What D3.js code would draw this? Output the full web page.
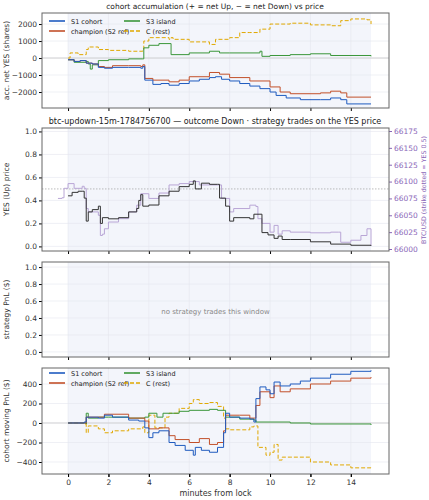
<!DOCTYPE html><html><head><meta charset="utf-8"><script src="https://cdn.jsdelivr.net/npm/d3@7"></script>
<style>body{margin:0;background:#fff}text{font-family:"DejaVu Sans",sans-serif}</style></head><body><svg id="c" width="429" height="500"></svg><script>
const accS1=[[0,-100],[0.3,-200],[0.6,-150],[0.9,-300],[1.2,-350],[1.5,-550],[1.8,-600],[2.2,-550],[3,-550],[3.6,-600],[3.7,-500],[3.8,-1300],[4.2,-1550],[4.6,-1500],[5,-1600],[5.5,-1500],[6,-1350],[6.5,-1250],[7,-1150],[7.3,-1100],[7.6,-1250],[8,-1350],[8.5,-1500],[9,-1650],[9.5,-1800],[10,-2000],[10.3,-2200],[10.8,-2350],[11.5,-2450],[12.5,-2450],[13,-2350],[13.5,-2450],[13.8,-2700],[15,-2700]];
const accChamp=[[0,-100],[0.3,-200],[0.6,-150],[0.9,-300],[1.2,-350],[1.5,-500],[1.8,-550],[2.2,-450],[3,-450],[3.6,-500],[3.7,-400],[3.8,-1200],[4.2,-1300],[5,-1400],[5.5,-1300],[6,-1100],[7,-850],[7.5,-950],[8,-1150],[9,-1350],[10,-1700],[10.5,-2000],[11,-2100],[12.5,-2050],[13,-1950],[13.5,-2050],[13.8,-2300],[15,-2300]];
const accS3=[[0,-100],[0.3,-250],[0.9,-200],[1,-350],[1.1,-650],[1.2,-400],[1.5,-150],[2,-100],[3,-50],[3.7,-50],[3.75,600],[4,750],[4.5,850],[5.1,850],[5.1,200],[6,300],[7,400],[7.5,300],[8,300],[9.5,400],[9.6,100],[10,150],[11,200],[12,250],[13,150],[15,100]];
const accC=[[0,0],[0.1,300],[0.5,200],[0.9,500],[1,650],[1.5,500],[2,450],[3,400],[3.5,400],[3.7,500],[3.75,1000],[4,1200],[5,1100],[5.1,1200],[5.2,1100],[6,950],[7,800],[7.3,1100],[8,1200],[8.5,1500],[9,1500],[9.5,1700],[10,2000],[11,2050],[12,1950],[13,1900],[13.5,2200],[14,2300],[14.8,2250],[15,2000]];
const yesPrice=[[0,0.44],[0.2,0.47],[0.5,0.48],[0.7,0.48],[0.8,0.42],[0.9,0.22],[1,0.3],[1.2,0.32],[1.5,0.35],[1.6,0.2],[1.7,0.25],[2,0.24],[2.5,0.25],[3,0.3],[3.4,0.33],[3.5,0.4],[3.6,0.45],[3.7,0.35],[4,0.36],[4.5,0.44],[5,0.48],[5.5,0.52],[6,0.54],[6.2,0.57],[6.3,0.5],[6.6,0.55],[7,0.54],[7.4,0.54],[7.5,0.42],[7.8,0.35],[8,0.22],[8.2,0.25],[9,0.24],[9.2,0.28],[9.5,0.28],[9.6,0.12],[9.9,0.1],[10.2,0.07],[10.4,0.09],[10.6,0.06],[11,0.06],[12,0.04],[13,0.02],[14,0.01],[15,0.005]];
const btc=[[-0.5,66075],[-0.3,66076],[-0.2,66090],[0,66097],[0.3,66090],[0.7,66093],[0.8,66090],[0.9,66060],[1,66055],[1.5,66050],[1.6,66020],[1.7,66022],[1.8,66030],[2,66040],[2.5,66045],[3,66055],[3.4,66065],[3.6,66082],[4,66075],[4.5,66083],[5,66095],[5.5,66097],[6,66100],[6.5,66095],[7.4,66095],[7.6,66075],[8,66055],[8.2,66060],[9,66065],[9.3,66063],[9.4,66045],[9.6,66038],[10,66025],[10.2,66035],[10.4,66022],[10.6,66027],[11,66025],[12,66024],[13,66025],[13.4,66025],[13.5,66010],[14,66013],[14.5,66020],[14.8,66030],[15,66005]];
const pnlS1=[[0,0],[0.8,10],[0.9,60],[1.5,50],[1.8,80],[2.2,60],[3,30],[3.5,20],[3.8,-50],[4,-150],[4.2,-100],[4.5,-80],[5,-200],[5.3,-230],[5.8,-280],[6.2,-330],[6.3,-250],[6.6,-280],[7,-300],[7.4,-250],[7.7,-100],[7.8,100],[8,60],[8.5,50],[9,40],[9.2,10],[9.3,250],[9.5,370],[9.8,340],[10,300],[10.2,420],[10.5,380],[11,400],[11.5,430],[12,460],[13,500],[14,530],[15,540]];
const pnlChamp=[[0,0],[0.9,60],[1.8,90],[3,50],[3.8,20],[4,-60],[4.5,-50],[5,-130],[5.3,-170],[6,-200],[6.5,-160],[7,-220],[7.4,-200],[7.7,-80],[7.8,80],[8.5,80],[9,50],[9.3,180],[9.5,320],[10,260],[10.2,380],[10.5,320],[11,350],[12,400],[13,430],[14,460],[15,470]];
const pnlS3=[[0,0],[0.9,-10],[0.9,100],[1,50],[1.5,60],[2,60],[3,50],[3.8,60],[4,100],[4.4,60],[4.7,100],[5,100],[5.5,120],[6,130],[7,140],[7.4,130],[7.8,60],[8.5,40],[9.2,30],[9.3,10],[10,10],[11,0],[12,-10],[15,-20]];
const pnlC=[[0,0],[0.8,-10],[0.9,-100],[1,-30],[1.5,-60],[1.8,-100],[2.2,-80],[3,-60],[3.7,-40],[3.8,-100],[4,80],[4.3,-50],[4.8,60],[5,100],[5.5,150],[6,200],[6.2,240],[6.5,200],[7,210],[7.4,170],[7.7,50],[7.8,-60],[8,-70],[8.5,-70],[9,-40],[9.2,-30],[9.4,-250],[9.8,-330],[10,-300],[10.2,-220],[10.4,-380],[10.6,-350],[11,-350],[12,-400],[13,-430],[14,-460],[15,-470]];
const xTicks=[0,2,4,6,8,10,12,14];
const names=["S1 cohort","champion (S2 ref)","S3 island","C (rest)"];
const colors=["#1f5bbf","#c2502a","#3a963a","#e0a800"];

const svg=d3.select("#c");
const L=42,R=389;
const x=d3.scaleLinear().domain([-1.29,15.89]).range([L,R]);
function panel(top,bot,dom,ticks,ylabel,fmt){
  const y=d3.scaleLinear().domain(dom).range([bot,top]);
  const g=svg.append("g");
  g.append("rect").attr("x",x(0)).attr("y",top).attr("width",x(15)-x(0)).attr("height",bot-top).attr("fill","#f3f5fb");
  g.selectAll(".gx").data(xTicks).join("line").attr("x1",d=>x(d)).attr("x2",d=>x(d)).attr("y1",top).attr("y2",bot).attr("stroke","#e4e6ee").attr("stroke-width",0.6);
  g.selectAll(".gy").data(ticks).join("line").attr("x1",L).attr("x2",R).attr("y1",d=>y(d)).attr("y2",d=>y(d)).attr("stroke","#e4e6ee").attr("stroke-width",0.6);
  const ay=g.append("g").attr("transform",`translate(${L},0)`).call(d3.axisLeft(y).tickValues(ticks).tickSize(3).tickPadding(2).tickFormat(fmt));
  ay.selectAll("text").attr("font-size",7.5).attr("fill","#333");ay.select(".domain").remove();
  const ax=g.append("g").attr("transform",`translate(0,${bot})`).call(d3.axisBottom(x).tickValues(xTicks).tickSize(3).tickFormat(""));
  ax.select(".domain").remove();
  g.append("text").attr("transform",`translate(9,${(top+bot)/2}) rotate(-90)`).attr("text-anchor","middle").attr("font-size",7.5).attr("fill","#333").text(ylabel);
  return {y,g,top,bot};
}
function frame(p){svg.append("rect").attr("x",L).attr("y",p.top).attr("width",R-L).attr("height",p.bot-p.top).attr("fill","none").attr("stroke","#666").attr("stroke-width",1);}
function line(p,data,col,w,dash,yy){
  const ys=yy||p.y;
  p.g.append("path").datum(data).attr("fill","none").attr("stroke",col).attr("stroke-width",w).attr("stroke-dasharray",dash||null)
   .attr("d",d3.line().curve(d3.curveStepAfter).x(d=>x(d[0])).y(d=>ys(d[1])));
}
const minus=d=>(d<0?"−":"")+Math.abs(d);
function legend(p,ox,oy){
  const pos=[[ox,oy],[ox,oy+10],[ox+75,oy],[ox+75,oy+10]];
  names.forEach((n,i)=>{
    const [lx,ly]=pos[i];
    p.g.append("line").attr("x1",lx).attr("x2",lx+16).attr("y1",ly).attr("y2",ly).attr("stroke",colors[i]).attr("stroke-width",1.6).attr("stroke-dasharray",i==3?"4,2":null);
    p.g.append("text").attr("x",lx+22).attr("y",ly+2.5).attr("font-size",6.5).attr("fill","#222").text(n);
  });
}
// Panel 1
const p1=panel(13,108,[-2940,2650],[-2000,-1000,0,1000,2000],"acc. net YES (shares)",minus);
p1.g.append("line").attr("x1",L).attr("x2",R).attr("y1",p1.y(0)).attr("y2",p1.y(0)).attr("stroke","#ccc").attr("stroke-width",0.8);
[accC,accS3,accChamp,accS1].forEach((d,i)=>line(p1,d,colors[3-i],1,i==0?"4,2":null));
legend(p1,49,21);frame(p1);
svg.append("text").attr("x",215).attr("y",9).attr("text-anchor","middle").attr("font-size",7.5).attr("fill","#222").text("cohort accumulation (+ = net Up, − = net Down) vs price");
// Panel 2
const p2=panel(128,251,[-0.04,1.03],[0,0.2,0.4,0.6,0.8,1.0],"YES (Up) price",d3.format(".1f"));
const yb=d3.scaleLinear().domain([66000,66175]).range([249,131]);
p2.g.append("line").attr("x1",L).attr("x2",R).attr("y1",p2.y(0.5)).attr("y2",p2.y(0.5)).attr("stroke","#aaa").attr("stroke-width",0.8).attr("stroke-dasharray","1.5,1.5");
line(p2,btc,"#b9a6d6",1,null,yb);
line(p2,yesPrice,"#333",1);
const ar=svg.append("g").attr("transform",`translate(${R},0)`).call(d3.axisRight(yb).tickValues([66000,66025,66050,66075,66100,66125,66150,66175]).tickSize(3).tickPadding(2).tickFormat(d3.format("d")));
ar.select(".domain").remove();ar.selectAll("text").attr("font-size",7.5).attr("fill","#8a66b8");ar.selectAll("line").attr("stroke","#8a66b8");
svg.append("text").attr("transform",`translate(426,190) rotate(-90)`).attr("text-anchor","middle").attr("font-size",6.3).attr("fill","#8a66b8").text("BTC/USD (strike dotted = YES 0.5)");
frame(p2);
svg.append("text").attr("x",215).attr("y",124).attr("text-anchor","middle").attr("font-size",8).attr("fill","#222").text("btc-updown-15m-1784756700 — outcome Down · strategy trades on the YES price");
// Panel 3
const p3=panel(262,357,[-0.06,1.06],[0,0.2,0.4,0.6,0.8,1.0],"strategy PnL ($)",d3.format(".1f"));
p3.g.append("text").attr("x",(L+R)/2).attr("y",314).attr("text-anchor","middle").attr("font-size",7).attr("fill","#888").text("no strategy trades this window");
frame(p3);
// Panel 4
const p4=panel(368,474,[-523,564],[-400,-200,0,200,400],"cohort moving PnL ($)",minus);
p4.g.append("line").attr("x1",L).attr("x2",R).attr("y1",p4.y(0)).attr("y2",p4.y(0)).attr("stroke","#ccc").attr("stroke-width",0.8);
[pnlC,pnlS3,pnlChamp,pnlS1].forEach((d,i)=>line(p4,d,colors[3-i],1,i==0?"4,2":null));
legend(p4,49,373);frame(p4);
const ax4=svg.append("g").attr("transform",`translate(0,474)`).call(d3.axisBottom(x).tickValues(xTicks).tickSize(3));
ax4.select(".domain").remove();ax4.selectAll("text").attr("font-size",7.5).attr("fill","#333");
svg.append("text").attr("x",(L+R)/2).attr("y",496).attr("text-anchor","middle").attr("font-size",8).attr("fill","#333").text("minutes from lock");
</script></body></html>
